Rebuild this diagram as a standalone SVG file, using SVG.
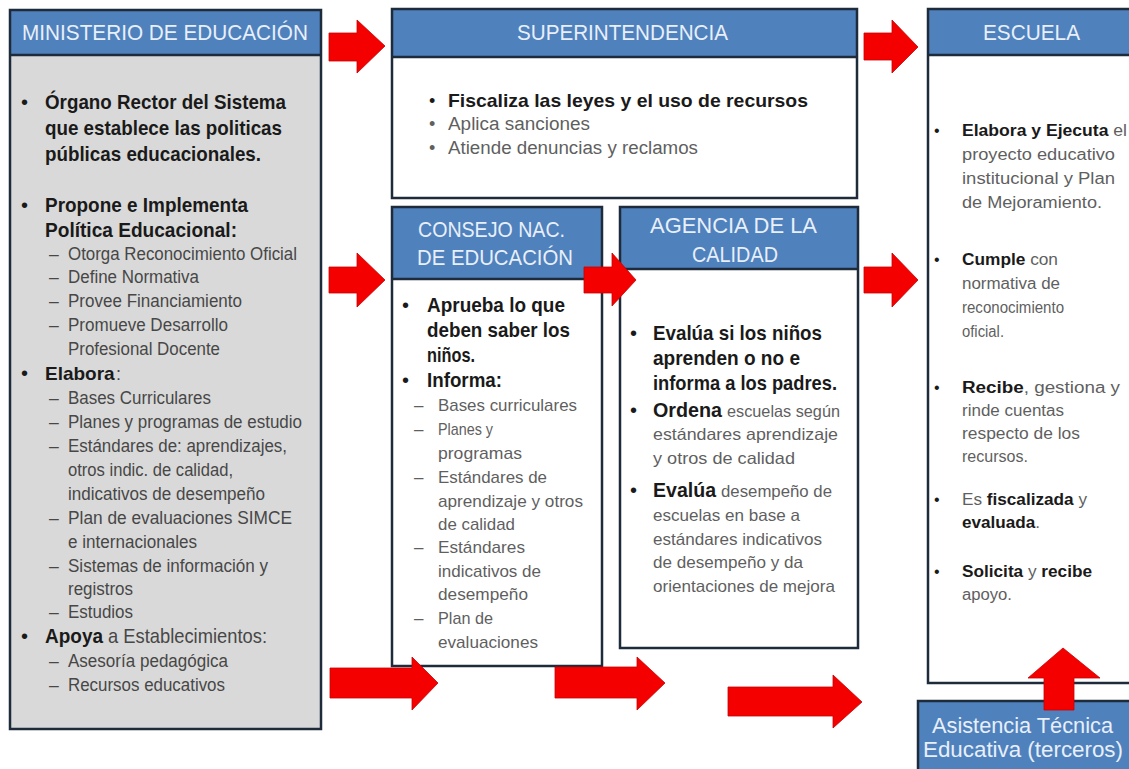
<svg xmlns="http://www.w3.org/2000/svg" width="1129" height="769" viewBox="0 0 1129 769">
<style>
text{font-family:"Liberation Sans",Arial,sans-serif}
.frame{fill:none;stroke:#1d2b3a;stroke-width:2.5}
.hdr{fill:#4F81BD}
.sep{stroke:#1d2b3a;stroke-width:2.5}
.ht{fill:#E8EFF9;font-size:22px}
.bb{font-weight:bold;fill:#1a1a1a}
.bul{fill:#1a1a1a}
.m{fill:#474747;font-size:17.5px}
.g{fill:#5f5f5f}
.arrow{fill:#F40000;stroke:#C80000;stroke-width:0.8}
</style>
<rect width="1129" height="769" fill="#ffffff"/>

<g id="ministerio">
<rect x="10" y="10" width="311" height="719" fill="#D9D9D9"/>
<rect x="10" y="10" width="311" height="45" class="hdr"/>
<line x1="10" y1="55" x2="321" y2="55" class="sep"/>
<rect x="10" y="10" width="311" height="719" class="frame"/>
<text class="ht" x="22" y="40" textLength="286" lengthAdjust="spacingAndGlyphs">MINISTERIO DE EDUCACIÓN</text>
<g font-size="20">
<text class="bul" x="21" y="109">•</text>
<text class="bul" x="21" y="212">•</text>
<text class="bul" x="21" y="380">•</text>
<text class="bul" x="21" y="643">•</text>
</g>
<g font-size="21">
<text class="bb" x="45" y="109" textLength="241" lengthAdjust="spacingAndGlyphs">Órgano Rector del Sistema</text>
<text class="bb" x="45" y="135" textLength="237" lengthAdjust="spacingAndGlyphs">que establece las politicas</text>
<text class="bb" x="45" y="161" textLength="216" lengthAdjust="spacingAndGlyphs">públicas educacionales.</text>
<text class="bb" x="45" y="212" textLength="203" lengthAdjust="spacingAndGlyphs">Propone e Implementa</text>
<text class="bb" x="45" y="237" textLength="192" lengthAdjust="spacingAndGlyphs">Política Educacional:</text>
<text class="bb" x="45" y="380" font-size="19">Elabora</text>
<text x="116" y="380" fill="#474747" font-size="18">:</text>
<text class="bb" x="45" y="643" textLength="58" lengthAdjust="spacingAndGlyphs">Apoya</text>
<text x="108" y="643" fill="#474747" textLength="159" lengthAdjust="spacingAndGlyphs">a Establecimientos:</text>
</g>
<g class="m">
<text x="49" y="260">–</text>
<text x="49" y="283">–</text>
<text x="49" y="307">–</text>
<text x="49" y="331">–</text>
<text x="49" y="404">–</text>
<text x="49" y="428">–</text>
<text x="49" y="452">–</text>
<text x="49" y="524">–</text>
<text x="49" y="572">–</text>
<text x="49" y="618">–</text>
<text x="49" y="667">–</text>
<text x="49" y="691">–</text>
<text x="68" y="260" textLength="229" lengthAdjust="spacingAndGlyphs">Otorga Reconocimiento Oficial</text>
<text x="68" y="283" textLength="131" lengthAdjust="spacingAndGlyphs">Define Normativa</text>
<text x="68" y="307" textLength="174" lengthAdjust="spacingAndGlyphs">Provee Financiamiento</text>
<text x="68" y="331" textLength="160" lengthAdjust="spacingAndGlyphs">Promueve Desarrollo</text>
<text x="68" y="355" textLength="152" lengthAdjust="spacingAndGlyphs">Profesional Docente</text>
<text x="68" y="404" textLength="143" lengthAdjust="spacingAndGlyphs">Bases Curriculares</text>
<text x="68" y="428" textLength="234" lengthAdjust="spacingAndGlyphs">Planes y programas de estudio</text>
<text x="68" y="452" textLength="219" lengthAdjust="spacingAndGlyphs">Estándares de: aprendizajes,</text>
<text x="68" y="476" textLength="165" lengthAdjust="spacingAndGlyphs">otros indic. de calidad,</text>
<text x="68" y="500" textLength="197" lengthAdjust="spacingAndGlyphs">indicativos de desempeño</text>
<text x="68" y="524" textLength="224" lengthAdjust="spacingAndGlyphs">Plan de evaluaciones  SIMCE</text>
<text x="68" y="548" textLength="129" lengthAdjust="spacingAndGlyphs">e internacionales</text>
<text x="68" y="572" textLength="200" lengthAdjust="spacingAndGlyphs">Sistemas de información y</text>
<text x="68" y="595" textLength="65" lengthAdjust="spacingAndGlyphs">registros</text>
<text x="68" y="618" textLength="65" lengthAdjust="spacingAndGlyphs">Estudios</text>
<text x="68" y="667" textLength="160" lengthAdjust="spacingAndGlyphs">Asesoría pedagógica</text>
<text x="68" y="691" textLength="157" lengthAdjust="spacingAndGlyphs">Recursos educativos</text>
</g>
</g>

<g id="superintendencia">
<rect x="392" y="9" width="465" height="189" fill="#ffffff"/>
<rect x="392" y="9" width="465" height="48" class="hdr"/>
<line x1="392" y1="57" x2="857" y2="57" class="sep"/>
<rect x="392" y="9" width="465" height="189" class="frame"/>
<text class="ht" x="517" y="40" textLength="211" lengthAdjust="spacingAndGlyphs">SUPERINTENDENCIA</text>
<g font-size="18">
<text class="bul" x="429" y="107">•</text>
<text class="g" x="429" y="130">•</text>
<text class="g" x="429" y="154">•</text>
<text class="bb" x="448" y="107" font-size="19" textLength="360" lengthAdjust="spacingAndGlyphs">Fiscaliza las leyes y el uso de recursos</text>
<text class="g" x="448" y="130" textLength="142" lengthAdjust="spacingAndGlyphs">Aplica sanciones</text>
<text class="g" x="448" y="154" textLength="250" lengthAdjust="spacingAndGlyphs">Atiende denuncias y reclamos</text>
</g>
</g>

<g id="consejo">
<rect x="392" y="207" width="210" height="459" fill="#ffffff"/>
<rect x="392" y="207" width="210" height="72" class="hdr"/>
<line x1="392" y1="279" x2="602" y2="279" class="sep"/>
<rect x="392" y="207" width="210" height="459" class="frame"/>
<text class="ht" x="418" y="237" textLength="147" lengthAdjust="spacingAndGlyphs">CONSEJO NAC.</text>
<text class="ht" x="417" y="265" textLength="156" lengthAdjust="spacingAndGlyphs">DE EDUCACIÓN</text>
<g font-size="21">
<text class="bul" x="402" y="312" font-size="20">•</text>
<text class="bul" x="402" y="387" font-size="20">•</text>
<text class="bb" x="427" y="312" textLength="138" lengthAdjust="spacingAndGlyphs">Aprueba lo que</text>
<text class="bb" x="427" y="337" textLength="143" lengthAdjust="spacingAndGlyphs">deben saber los</text>
<text class="bb" x="427" y="362" textLength="48" lengthAdjust="spacingAndGlyphs">niños.</text>
<text class="bb" x="427" y="387" textLength="75" lengthAdjust="spacingAndGlyphs">Informa:</text>
</g>
<g class="g" font-size="17">
<text x="414" y="411">–</text>
<text x="414" y="435">–</text>
<text x="414" y="483">–</text>
<text x="414" y="553">–</text>
<text x="414" y="624">–</text>
<text x="438" y="411" textLength="139" lengthAdjust="spacingAndGlyphs">Bases curriculares</text>
<text x="438" y="435" textLength="55" lengthAdjust="spacingAndGlyphs">Planes y</text>
<text x="438" y="459" textLength="84" lengthAdjust="spacingAndGlyphs">programas</text>
<text x="438" y="483" textLength="109" lengthAdjust="spacingAndGlyphs">Estándares de</text>
<text x="438" y="507" textLength="145" lengthAdjust="spacingAndGlyphs">aprendizaje y otros</text>
<text x="438" y="530" textLength="77" lengthAdjust="spacingAndGlyphs">de calidad</text>
<text x="438" y="553" textLength="87" lengthAdjust="spacingAndGlyphs">Estándares</text>
<text x="438" y="577" textLength="103" lengthAdjust="spacingAndGlyphs">indicativos de</text>
<text x="438" y="600" textLength="90" lengthAdjust="spacingAndGlyphs">desempeño</text>
<text x="438" y="624" textLength="55" lengthAdjust="spacingAndGlyphs">Plan de</text>
<text x="438" y="648" textLength="100" lengthAdjust="spacingAndGlyphs">evaluaciones</text>
</g>
</g>

<g id="agencia">
<rect x="620" y="207" width="238" height="441" fill="#ffffff"/>
<rect x="620" y="207" width="238" height="62" class="hdr"/>
<line x1="620" y1="269" x2="858" y2="269" class="sep"/>
<rect x="620" y="207" width="238" height="441" class="frame"/>
<text class="ht" x="650" y="233" textLength="167" lengthAdjust="spacingAndGlyphs">AGENCIA DE LA</text>
<text class="ht" x="692" y="262" textLength="86" lengthAdjust="spacingAndGlyphs">CALIDAD</text>
<g font-size="20">
<text class="bul" x="630" y="340">•</text>
<text class="bul" x="630" y="417">•</text>
<text class="bul" x="630" y="497">•</text>
</g>
<g font-size="21">
<text class="bb" x="653" y="340" textLength="169" lengthAdjust="spacingAndGlyphs">Evalúa si los niños</text>
<text class="bb" x="653" y="365" textLength="147" lengthAdjust="spacingAndGlyphs">aprenden o no e</text>
<text class="bb" x="653" y="390" textLength="184" lengthAdjust="spacingAndGlyphs">informa a los padres.</text>
</g>
<g class="g" font-size="16.5">
<text class="bb" x="653" y="417" font-size="20" textLength="69" lengthAdjust="spacingAndGlyphs">Ordena</text>
<text x="727" y="417" textLength="113" lengthAdjust="spacingAndGlyphs">escuelas según</text>
<text x="653" y="440" textLength="185" lengthAdjust="spacingAndGlyphs">estándares aprendizaje</text>
<text x="653" y="464" textLength="142" lengthAdjust="spacingAndGlyphs">y otros de calidad</text>
<text class="bb" x="653" y="497" font-size="20" textLength="63" lengthAdjust="spacingAndGlyphs">Evalúa</text>
<text x="721" y="497" textLength="111" lengthAdjust="spacingAndGlyphs">desempeño de</text>
<text x="653" y="521" textLength="147" lengthAdjust="spacingAndGlyphs">escuelas en base a</text>
<text x="653" y="545" textLength="169" lengthAdjust="spacingAndGlyphs">estándares indicativos</text>
<text x="653" y="568" textLength="150" lengthAdjust="spacingAndGlyphs">de desempeño y da</text>
<text x="653" y="592" textLength="182" lengthAdjust="spacingAndGlyphs">orientaciones de mejora</text>
</g>
</g>

<g id="escuela">
<rect x="928" y="9" width="210" height="674" fill="#ffffff"/>
<rect x="928" y="9" width="210" height="46" class="hdr"/>
<line x1="928" y1="55" x2="1138" y2="55" class="sep"/>
<rect x="928" y="9" width="210" height="674" class="frame"/>
<text class="ht" x="983" y="40" textLength="97" lengthAdjust="spacingAndGlyphs">ESCUELA</text>
<g font-size="16">
<text class="bul" x="934" y="136">•</text>
<text class="bul" x="934" y="265">•</text>
<text class="bul" x="934" y="393">•</text>
<text class="bul" x="934" y="505">•</text>
<text class="bul" x="934" y="577">•</text>
</g>
<g class="g" font-size="16">
<text x="962" y="136" textLength="165" lengthAdjust="spacingAndGlyphs"><tspan class="bb">Elabora y Ejecuta</tspan> el</text>
<text x="962" y="160" textLength="153" lengthAdjust="spacingAndGlyphs">proyecto educativo</text>
<text x="962" y="184" textLength="153" lengthAdjust="spacingAndGlyphs">institucional y Plan</text>
<text x="962" y="208" textLength="140" lengthAdjust="spacingAndGlyphs">de Mejoramiento.</text>
<text x="962" y="265" textLength="96" lengthAdjust="spacingAndGlyphs"><tspan class="bb">Cumple</tspan> con</text>
<text x="962" y="289" textLength="98" lengthAdjust="spacingAndGlyphs">normativa de</text>
<text x="962" y="313" textLength="102" lengthAdjust="spacingAndGlyphs">reconocimiento</text>
<text x="962" y="337" textLength="42" lengthAdjust="spacingAndGlyphs">oficial.</text>
<text x="962" y="393" textLength="158" lengthAdjust="spacingAndGlyphs"><tspan class="bb">Recibe</tspan>, gestiona y</text>
<text x="962" y="416" textLength="102" lengthAdjust="spacingAndGlyphs">rinde cuentas</text>
<text x="962" y="439" textLength="118" lengthAdjust="spacingAndGlyphs">respecto de  los</text>
<text x="962" y="462" textLength="66" lengthAdjust="spacingAndGlyphs">recursos.</text>
<text x="962" y="505" textLength="125" lengthAdjust="spacingAndGlyphs">Es <tspan class="bb">fiscalizada</tspan> y</text>
<text x="962" y="528" textLength="78" lengthAdjust="spacingAndGlyphs"><tspan class="bb">evaluada</tspan>.</text>
<text x="962" y="577" textLength="130" lengthAdjust="spacingAndGlyphs"><tspan class="bb">Solicita</tspan> y <tspan class="bb">recibe</tspan></text>
<text x="962" y="600" textLength="50" lengthAdjust="spacingAndGlyphs">apoyo.</text>
</g>
</g>

<g id="asistencia">
<rect x="918" y="701" width="220" height="80" class="hdr"/>
<rect x="918" y="701" width="220" height="80" class="frame"/>
<text class="ht" x="932" y="733" textLength="181" lengthAdjust="spacingAndGlyphs">Asistencia Técnica</text>
<text class="ht" x="923" y="757" textLength="200" lengthAdjust="spacingAndGlyphs">Educativa (terceros)</text>
</g>

<g id="connectors">
<polygon class="arrow" points="329,33 357,33 357,20 385,46 357,73 357,61 329,61"/>
<polygon class="arrow" points="329,267 357,267 357,253 385,280 357,307 357,293 329,293"/>
<polygon class="arrow" points="864,33 892,33 892,20 918,47 892,73 892,60 864,60"/>
<polygon class="arrow" points="864,267 892,267 892,253 918,280 892,307 892,293 864,293"/>
<polygon class="arrow" points="584,267 612,267 612,253 636,280 612,306 612,293 584,293"/>
<polygon class="arrow" points="330,668 412,668 412,657 438,683 412,710 412,698 330,698"/>
<polygon class="arrow" points="555,667 637,667 637,657 665,683 637,710 637,698 555,698"/>
<polygon class="arrow" points="728,687 833,687 833,675 862,702 833,728 833,716 728,716"/>
<polygon class="arrow" points="1044,710 1044,678 1028,678 1063,648 1100,678 1074,678 1074,710"/>
</g>
</svg>
